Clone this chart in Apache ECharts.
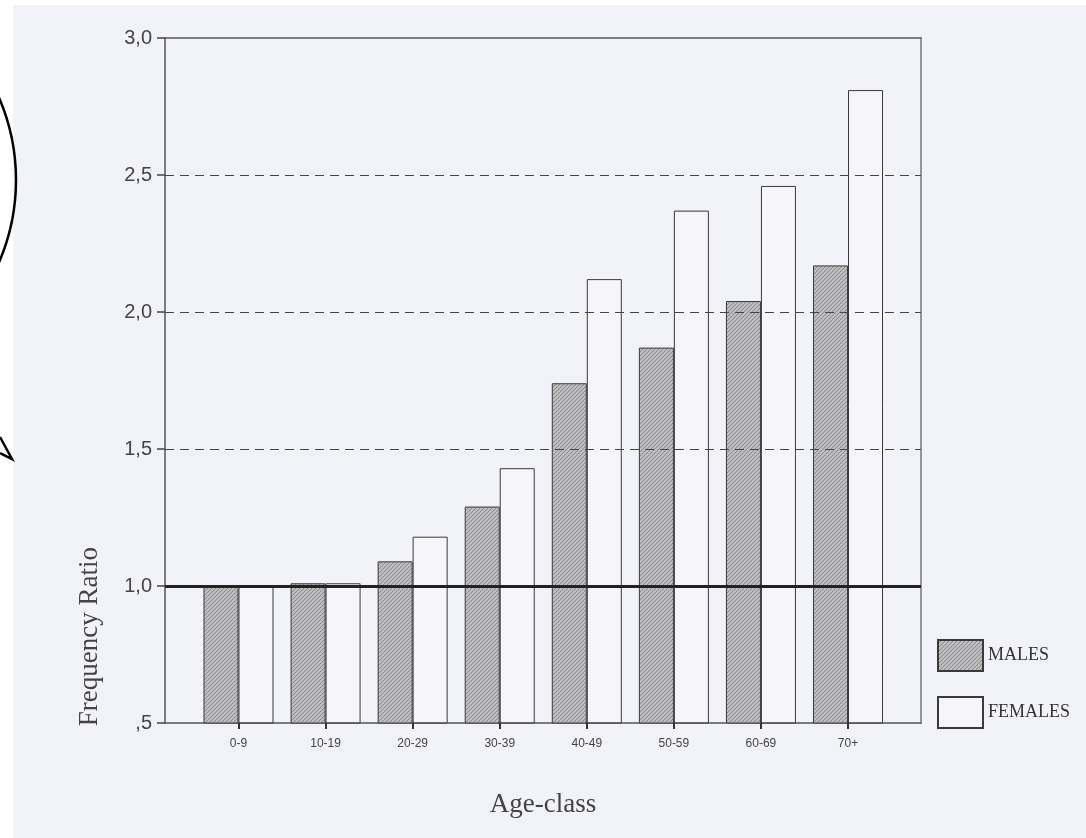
<!DOCTYPE html>
<html>
<head>
<meta charset="utf-8">
<script src="https://cdn.jsdelivr.net/npm/echarts@6/dist/echarts.min.js"></script>
<style>
  html, body { margin: 0; padding: 0; background: #ffffff; }
  #paper { position: absolute; left: 13px; top: 5px; width: 1073px; height: 833px; background: #f2f2f9; }
  #chart { position: absolute; left: 0; top: 0; width: 1086px; height: 838px; }
</style>
</head>
<body>
<div id="paper"></div>
<div id="chart"></div>
<script>
// age classes on the x axis
const ageClasses = ['0-9', '10-19', '20-29', '30-39', '40-49', '50-59', '60-69', '70+'];
// frequency ratio per age class
const males = [1.00, 1.01, 1.09, 1.29, 1.74, 1.87, 2.04, 2.17];
const females = [1.00, 1.01, 1.18, 1.43, 2.12, 2.37, 2.46, 2.81];
// dashed guide lines and the reference line
const guideLines = [1.5, 2.0, 2.5];
const refLine = 1.0;

const sans = '"Liberation Sans", Arial, sans-serif';
const serif = '"Liberation Serif", "Times New Roman", serif';

// hatched grey fill for the males bars
function hatch() {
  const c = document.createElement('canvas');
  c.width = 4; c.height = 4;
  const ctx = c.getContext('2d');
  ctx.fillStyle = '#bdbdc0';
  ctx.fillRect(0, 0, 4, 4);
  ctx.strokeStyle = '#8c8c90';
  ctx.lineWidth = 1;
  ctx.beginPath();
  ctx.moveTo(-1, 1); ctx.lineTo(1, -1);
  ctx.moveTo(0, 4); ctx.lineTo(4, 0);
  ctx.moveTo(3, 5); ctx.lineTo(5, 3);
  ctx.stroke();
  return c;
}

window.onload = function () {
  const chart = echarts.init(document.getElementById('chart'), null, { renderer: 'canvas' });
  const idx = ageClasses.map((c, i) => i);

  const option = {
    backgroundColor: 'transparent',
    animation: false,
    grid: { left: 165, right: 165, top: 38, bottom: 115 },
    legend: {
      orient: 'vertical',
      left: 932,
      top: 634,
      itemWidth: 45,
      itemHeight: 31,
      itemGap: 24,
      icon: 'rect',
      textStyle: { fontFamily: serif, fontSize: 18, color: '#333', padding: [10, 0, 0, 0] },
      data: ['MALES', 'FEMALES']
    },
    xAxis: [{
      type: 'value',
      min: -0.844,
      max: 7.838,
      name: 'Age-class',
      nameLocation: 'middle',
      nameGap: 68,
      nameTextStyle: { fontFamily: serif, fontSize: 27, color: '#444' },
      axisLine: { show: true, onZero: false, lineStyle: { color: '#555', width: 1.5 } },
      axisTick: { show: true, customValues: idx, length: 6, lineStyle: { color: '#333', width: 2 } },
      axisLabel: {
        customValues: idx,
        margin: 15,
        fontFamily: sans, fontSize: 12, color: '#444',
        formatter: v => ageClasses[Math.round(v)]
      },
      splitLine: { show: false }
    }, {
      type: 'value',
      position: 'top',
      min: -0.844,
      max: 7.838,
      axisLine: { show: true, onZero: false, lineStyle: { color: '#555', width: 1.5 } },
      axisTick: { show: false },
      axisLabel: { show: false },
      splitLine: { show: false }
    }],
    yAxis: [{
      type: 'value',
      min: 0.5,
      max: 3.0,
      interval: 0.5,
      axisLine: { show: true, onZero: false, lineStyle: { color: '#555', width: 1.5 } },
      axisTick: { show: true, length: 8, lineStyle: { color: '#444', width: 1.5 } },
      axisLabel: {
        margin: 13,
        fontFamily: sans, fontSize: 20, color: '#444',
        formatter: v => (v < 1 ? ',' + Math.round(v * 10) : v.toFixed(1).replace('.', ','))
      },
      splitLine: { show: false }
    }, {
      type: 'value',
      position: 'right',
      min: 0.5,
      max: 3.0,
      interval: 0.5,
      axisLine: { show: true, onZero: false, lineStyle: { color: '#777', width: 1.5 } },
      axisTick: { show: false },
      axisLabel: { show: false },
      splitLine: { show: false }
    }],
    graphic: [{
      type: 'text',
      left: 76,
      top: 547,
      rotation: Math.PI / 2,
      originX: 0, originY: 0,
      style: { text: 'Frequency Ratio', font: '27px ' + serif, fill: '#444' }
    }, {
      // callout edge at the left margin of the scan
      type: 'arc',
      shape: { cx: -192, cy: 180, r: 208, startAngle: -0.42, endAngle: 0.42, clockwise: true },
      style: { stroke: '#000', lineWidth: 2.5, fill: null }
    }, {
      type: 'polyline',
      shape: { points: [[0, 437], [12, 459], [0, 453]] },
      style: { stroke: '#000', lineWidth: 2.5, fill: null }
    }],
    series: [{
      name: 'MALES',
      type: 'bar',
      barWidth: 35,
      barGap: '0%',
      z: 2,
      itemStyle: { color: { image: hatch(), repeat: 'repeat' }, borderColor: '#3a3a3a', borderWidth: 1 },
      data: idx.map(i => [i, males[i]])
    }, {
      name: 'FEMALES',
      type: 'bar',
      barWidth: 35,
      barGap: '0%',
      z: 3,
      itemStyle: { color: 'rgba(255,255,255,0.25)', borderColor: '#3a3a3a', borderWidth: 1 },
      data: idx.map(i => [i, females[i]]),
      markLine: {
        silent: true,
        symbol: ['none', 'none'],
        label: { show: false },
        data: guideLines.map(v => ({ yAxis: v, lineStyle: { type: [9, 6], color: '#444', width: 1.2 } }))
          .concat([{ yAxis: refLine, lineStyle: { type: 'solid', color: '#222', width: 3 } }])
      }
    }]
  };
  chart.setOption(option);
};
</script>
</body>
</html>
